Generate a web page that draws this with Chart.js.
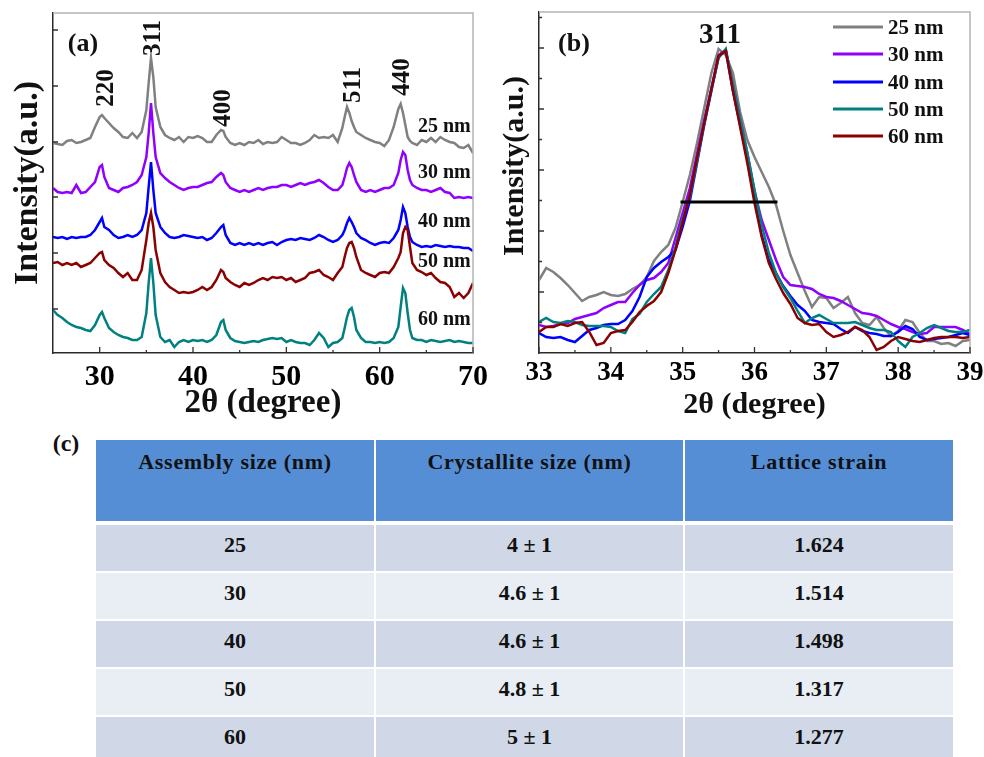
<!DOCTYPE html>
<html>
<head>
<meta charset="utf-8">
<title>XRD patterns, 311 peak and crystallite size</title>
<script src="https://cdn.jsdelivr.net/npm/chart.js"></script>
<style>
  body { margin: 0; background: #fff; }
  #page { position: relative; width: 984px; height: 757px; overflow: hidden;
          font-family: 'Liberation Serif', 'Times New Roman', serif; font-weight: bold; color: #111; }
  canvas { position: absolute; top: 0; }
  .txt { position: absolute; line-height: 1; white-space: nowrap; transform: translate(-50%, -50%); }
  .rot { transform: translate(-50%, -50%) rotate(-90deg); }
  .left { transform: translate(0, -50%); }
  .leg { position: absolute; display: flex; align-items: center; line-height: 1; font-size: 21px; transform: translate(0, -50%); }
  .leg i { display: inline-block; width: 50px; height: 3px; margin-right: 5px; }
  #tbl { position: absolute; left: 96px; top: 440px; display: grid;
         grid-template-columns: 278px 307px 268px; column-gap: 2px; row-gap: 2px; }
  #tbl div { text-align: center; font-size: 22px; height: 46px; line-height: 40px; }
  #tbl div.hd { background: #558ed5; height: 81px; line-height: 1; padding-top: 11px; box-sizing: border-box;
                margin-bottom: 2px; letter-spacing: 0.7px; }
  #tbl div.odd { background: #d0d8e8; }
  #tbl div.even { background: #e9edf4; }
</style>
</head>
<body>
<div id="page">
  <canvas id="chartA" width="490" height="420" style="left:0"></canvas>
  <canvas id="chartB" width="494" height="420" style="left:490px"></canvas>
  <div id="tbl"></div>
</div>

<script>
// ---- panel (a): full XRD patterns ----
const seriesNames = ['25 nm', '30 nm', '40 nm', '50 nm', '60 nm'];

const twoThetaA = [25,25.5,26,26.5,27,27.5,28,28.5,29,29.5,30,30.25,30.5,31,31.5,32,32.5,33,33.5,34,34.5,35,
  35.25,35.5,35.75,36,36.5,37,37.5,38,38.5,39,39.5,40,40.5,41,41.5,42,42.5,43,43.25,43.5,44,44.5,45,45.5,46,
  46.5,47,47.5,48,48.5,49,49.5,50,50.5,51,51.5,52,52.5,53,53.5,54,54.5,55,55.5,56,56.25,56.5,56.75,57,57.25,
  57.5,58,58.5,59,59.5,60,60.5,61,61.5,62,62.25,62.5,62.75,63,63.25,63.5,64,64.5,65,65.5,66,66.5,67,67.5,68,
  68.5,69,69.5,70];

const xrd25 = [210,209,208,212,213,210,211,213,215,226,236, 238, 235,230,225,221,216,215,220,215,221,243,
  270,295,276, 246,226,218,215,213,216,211,216,215,217,215,211,211,218,223, 222,
  216,210,208,210,208,211,210,213,209,211,210,211,216,213,210,210,208,210,213,218,215,216,215,218,211,225,
  236,246,240,232,226, 221,218,215,213,211,210,207,213,226,244, 249,240,228,216,212,
  210,208,213,211,215,211,216,213,211,210,206,205,208,200];
const xrd30 = [165,161,160,161,160,168,160,161,166,171,186, 188, 176,165,163,161,165,166,168,171,178,196,
  220,250,220, 196,180,175,171,168,165,163,165,166,166,168,170,171,176,180, 178,
  171,165,163,161,163,161,163,165,163,165,166,166,168,168,166,168,170,168,170,171,173,170,166,163,163,168,
  176,185,190,186,178, 171,163,161,163,161,163,165,165,168,180, 193,201,198,183,173,
  168,165,163,163,161,163,165,161,160,155,156,155,156,155];
const xrd40 = [116,115,116,114,116,115,116,116,118,123,131, 135, 126,123,118,115,116,118,116,118,123,140,
  166,191,163, 140,126,120,116,115,116,118,117,116,115,116,113,115,120,126, 128,
  118,110,108,110,108,110,108,110,108,110,111,108,111,113,114,113,115,114,113,115,118,116,113,111,113,118,
  123,130,135,131,126, 120,115,113,110,108,110,111,110,115,123, 133,146,140,126,116,
  111,108,106,107,106,108,107,106,107,106,106,105,105,102];
const xrd50 = [90,91,88,90,88,90,86,88,90,95,100, 101, 93,88,85,80,76,80,73,73,83,113,
  130,140,126, 103,80,71,66,63,60,61,60,61,63,66,63,66,73,83, 81,
  75,71,68,66,70,68,70,73,75,73,76,75,76,73,75,71,73,75,80,81,83,78,76,73,80,86,
  96,105,110,111,105, 96,83,80,78,76,80,81,80,86,95, 101,120,126,123,106,
  90,83,81,78,80,75,71,70,66,56,60,55,60,70];
const xrd60 = [43,38,35,31,28,26,25,23,22,28,38, 41, 35,25,21,18,16,15,13,13,16,40,
  70,95,70, 38,16,11,13,6,11,13,11,13,12,13,11,13,18,31, 33,
  23,15,12,11,10,11,12,11,13,14,15,14,15,11,13,11,10,10,8,13,20,15,6,10,11,15,
  25,36,43,45,36, 23,15,11,11,10,11,10,11,15,26, 46,65,60,40,23,
  15,13,13,11,13,12,11,12,13,11,12,11,10,10];

const peakLabelsA = ['220', '311', '400', '511', '440'];
const xTicksA = [30, 40, 50, 60, 70];
const xMinorA = [35, 45, 55, 65];
const yTicksA = [44, 100, 156, 211, 267, 323];

// ---- panel (b): the 311 peak ----
const twoThetaB = [33.0,33.1,33.2,33.3,33.4,33.5,33.6,33.7,33.8,33.9,34.0,34.1,34.2,34.3,34.4,34.5,34.6,34.7,
  34.8,34.9,35.0,35.1,35.2,35.3,35.4,35.5,35.6,35.7,35.8,35.9,36.0,36.1,36.2,36.3,36.4,36.5,36.6,36.7,36.8,
  36.9,37.0,37.1,37.2,37.3,37.4,37.5,37.6,37.7,37.8,37.9,38.0,38.1,38.2,38.3,38.4,38.5,38.6,38.7,38.8,38.9,39.0];

const peak25 = [73,85,81,75,68,60,52,56,58,61, 58,57,59,64,68,76,92,101,108,125,
  151,178,210,245,280,304,298,280,241,213, 196,181,166,148,122,98,80,62,46,56,
  55,45,50,56,40,30,28,36,25,17, 22,33,31,20,12,12,9,10,7,12, 13];
const peak30 = [28,26,27,29,30,34,36,38,40,45, 48,51,51,60,68,73,75,81,90,115,
  140,165,199,233,265,298,303,268,234,200, 162,133,113,93,76,68,67,66,64,59,
  56,55,52,48,44,40,39,37,33,29, 26,24,21,19,20,26,26,26,26,23, 19];
const peak40 = [20,16,15,16,13,11,17,23,25,28, 29,29,33,42,56,76,85,91,96,103,
  126,152,190,228,262,296,303,262,228,193, 155,118,93,80,67,57,48,42,33,31,
  30,29,24,20,26,22,20,19,17,17, 21,27,24,16,13,14,15,16,18,20, 18];
const peak50 = [31,35,31,30,32,31,28,27,27,27, 26,22,20,34,39,51,59,66,83,106,
  134,156,192,230,264,295,304,268,234,200, 163,128,100,80,66,55,42,30,35,38,
  34,30,30,30,31,28,25,23,23,21, 12,6,16,20,25,28,25,22,21,21, 23];
const peak60 = [21,26,26,29,27,30,31,21,8,10, 20,22,23,31,41,47,52,61,80,103,
  131,158,195,230,264,297,302,262,226,190, 150,116,90,74,60,49,35,30,28,29,
  21,16,18,21,26,23,16,3,6,12, 16,14,12,11,13,15,16,16,16,15, 16];

const fwhmX = [34.97, 36.32];
const fwhmY = [151, 151];

const xTicksB = [33, 34, 35, 36, 37, 38, 39];
const xMinorB = [33.5, 34.5, 35.5, 36.5, 37.5, 38.5];
const yMajorB = [61, 122, 183, 244, 305];
const yMinorB = [30.5, 91.5, 152.5, 213.5, 274.5, 335.5];

// ---- table (c) ----
const tableHeaders = ['Assembly size (nm)', 'Crystallite size (nm)', 'Lattice strain'];
const assemblySize = ['25', '30', '40', '50', '60'];
const crystalliteSize = ['4 ± 1', '4.6 ± 1', '4.6 ± 1', '4.8 ± 1', '5 ± 1'];
const latticeStrain = ['1.624', '1.514', '1.498', '1.317', '1.277'];

// colours differ between the two panels for 50 / 60 nm
const colorsA = ['#808080', '#8f00ff', '#0000ff', '#8b0000', '#008080'];
const colorsB = ['#808080', '#8f00ff', '#0000ff', '#008080', '#8b0000'];

const FONT = "'Liberation Serif', 'Times New Roman', serif";

// inner tick marks + light frame on top/right
const innerTicks = {
  id: 'innerTicks',
  afterDatasetsDraw(chart, args, o) {
    const { ctx, chartArea: a } = chart;
    const sx = chart.scales.x, sy = chart.scales.y;
    ctx.save();
    ctx.strokeStyle = '#b4b4b4';
    ctx.lineWidth = 1.5;
    ctx.beginPath();
    ctx.moveTo(a.left, a.top);
    ctx.lineTo(a.right, a.top);
    ctx.lineTo(a.right, a.bottom);
    ctx.stroke();

    ctx.strokeStyle = '#333';
    ctx.lineWidth = 1.3;
    ctx.beginPath();
    const onX = (list, len) => list.forEach(v => {
      const p = sx.getPixelForValue(v);
      ctx.moveTo(p, a.bottom); ctx.lineTo(p, a.bottom - len);
    });
    const onY = (list, len) => list.forEach(v => {
      const p = sy.getPixelForValue(v);
      ctx.moveTo(a.left, p); ctx.lineTo(a.left + len, p);
    });
    onX(o.xMajor, 6); onX(o.xMinor, 3);
    onY(o.yMajor, 5); onY(o.yMinor, 3);
    ctx.stroke();
    ctx.restore();
  }
};

function toPoints(xs, ys) {
  return xs.map((x, i) => ({ x: x, y: ys[i] }));
}

function lineSet(label, xs, ys, color, order) {
  return {
    label: label,
    data: toPoints(xs, ys),
    borderColor: color,
    borderWidth: 2.5,
    pointRadius: 0,
    tension: 0,
    fill: false,
    order: order
  };
}

function axisOptions(p) {
  return {
    x: {
      type: 'linear', min: p.xmin, max: p.xmax,
      afterBuildTicks: s => { s.ticks = p.xticks.map(v => ({ value: v })); },
      // fixed axis height, and no extra side room for the end labels
      afterFit: s => { s.height = 67; s.paddingLeft = 0; s.paddingRight = 0; },
      grid: { display: false, drawTicks: false },
      border: { color: '#2a2a2a', width: 1.5 },
      ticks: { autoSkip: false, maxRotation: 0, color: '#000', padding: p.tickPad,
               font: { family: FONT, weight: 'bold', size: p.tickSize, lineHeight: 1 } },
      title: { display: true, text: '2θ (degree)', color: '#111', padding: 0,
               font: { family: FONT, weight: 'bold', size: p.titleX, lineHeight: 1 } }
    },
    y: {
      type: 'linear', min: 0, max: p.ymax,
      afterFit: s => { s.width = p.yWidth; },
      grid: { display: false, drawTicks: false },
      border: { color: '#2a2a2a', width: 1.5 },
      ticks: { display: false },
      title: { display: p.yTitle, text: 'Intensity(a.u.)', color: '#111', padding: { top: p.yTitlePad, bottom: 0 },
               font: { family: FONT, weight: 'bold', size: p.titleY, lineHeight: 1 } }
    }
  };
}

// panel (a)
const seriesA = [xrd25, xrd30, xrd40, xrd50, xrd60];
new Chart(document.getElementById('chartA'), {
  type: 'line',
  data: {
    datasets: seriesA.map((ys, i) => lineSet(seriesNames[i], twoThetaA, ys, colorsA[i], seriesA.length - i))
  },
  options: {
    responsive: false,
    animation: false,
    layout: { padding: { top: 13, right: 17, left: 0, bottom: 0 } },
    scales: axisOptions({ xmin: 25, xmax: 70, xticks: xTicksA, ymax: 340, yWidth: 53, tickPad: 9,
                          tickSize: 30, titleX: 33, titleY: 34, yTitle: true, yTitlePad: 11 }),
    plugins: {
      legend: { display: false },
      tooltip: { enabled: false },
      innerTicks: { xMajor: xTicksA, xMinor: xMinorA, yMajor: yTicksA, yMinor: [] }
    }
  },
  plugins: [innerTicks]
});

// panel (b)
const seriesB = [peak25, peak30, peak40, peak50, peak60];
const setsB = seriesB.map((ys, i) => lineSet(seriesNames[i], twoThetaB, ys, colorsB[i], seriesB.length - i));
setsB.push(Object.assign(lineSet('FWHM', fwhmX, fwhmY, '#000', 0), { borderWidth: 3 }));
new Chart(document.getElementById('chartB'), {
  type: 'line',
  data: { datasets: setsB },
  options: {
    responsive: false,
    animation: false,
    layout: { padding: { top: 12, right: 14, left: 0, bottom: 0 } },
    scales: axisOptions({ xmin: 33, xmax: 39, xticks: xTicksB, ymax: 341, yWidth: 49, tickPad: 7,
                          tickSize: 27, titleX: 30, titleY: 30, yTitle: false, yTitlePad: 8 }),
    plugins: {
      legend: { display: false },
      tooltip: { enabled: false },
      innerTicks: { xMajor: xTicksB, xMinor: xMinorB, yMajor: yMajorB, yMinor: yMinorB }
    }
  },
  plugins: [innerTicks]
});

// text overlays
const page = document.getElementById('page');
function addText(text, x, y, size, cls) {
  const d = document.createElement('div');
  d.className = 'txt' + (cls ? ' ' + cls : '');
  d.textContent = text;
  d.style.left = x + 'px';
  d.style.top = y + 'px';
  d.style.fontSize = size + 'px';
  page.appendChild(d);
}

addText('(a)', 83, 43, 26);
addText('(b)', 574, 43, 26);
addText('(c)', 66, 443, 24);
addText('311', 720, 33, 29);
addText('Intensity(a.u.)', 513, 166, 30, 'rot');

const peakPosA = [[104, 88], [151, 38], [221, 108], [351, 85], [400, 77]];
peakLabelsA.forEach((t, i) => addText(t, peakPosA[i][0], peakPosA[i][1], 25, 'rot'));

const nmLabelY = [125, 171, 220, 260, 318];
seriesNames.forEach((t, i) => addText(t, 418, nmLabelY[i], 20, 'left'));

// legend of panel (b)
seriesNames.forEach((t, i) => {
  const d = document.createElement('div');
  d.className = 'leg';
  d.style.left = '833px';
  d.style.top = (27 + i * 27.3) + 'px';
  d.innerHTML = '<i style="background:' + colorsB[i] + '"></i>' + t;
  page.appendChild(d);
});

// table (c)
const tbl = document.getElementById('tbl');
tableHeaders.forEach(h => {
  const d = document.createElement('div');
  d.className = 'hd';
  d.textContent = h;
  tbl.appendChild(d);
});
assemblySize.forEach((s, r) => {
  [s, crystalliteSize[r], latticeStrain[r]].forEach(v => {
    const d = document.createElement('div');
    d.className = r % 2 === 0 ? 'odd' : 'even';
    d.textContent = v;
    tbl.appendChild(d);
  });
});
</script>
</body>
</html>
